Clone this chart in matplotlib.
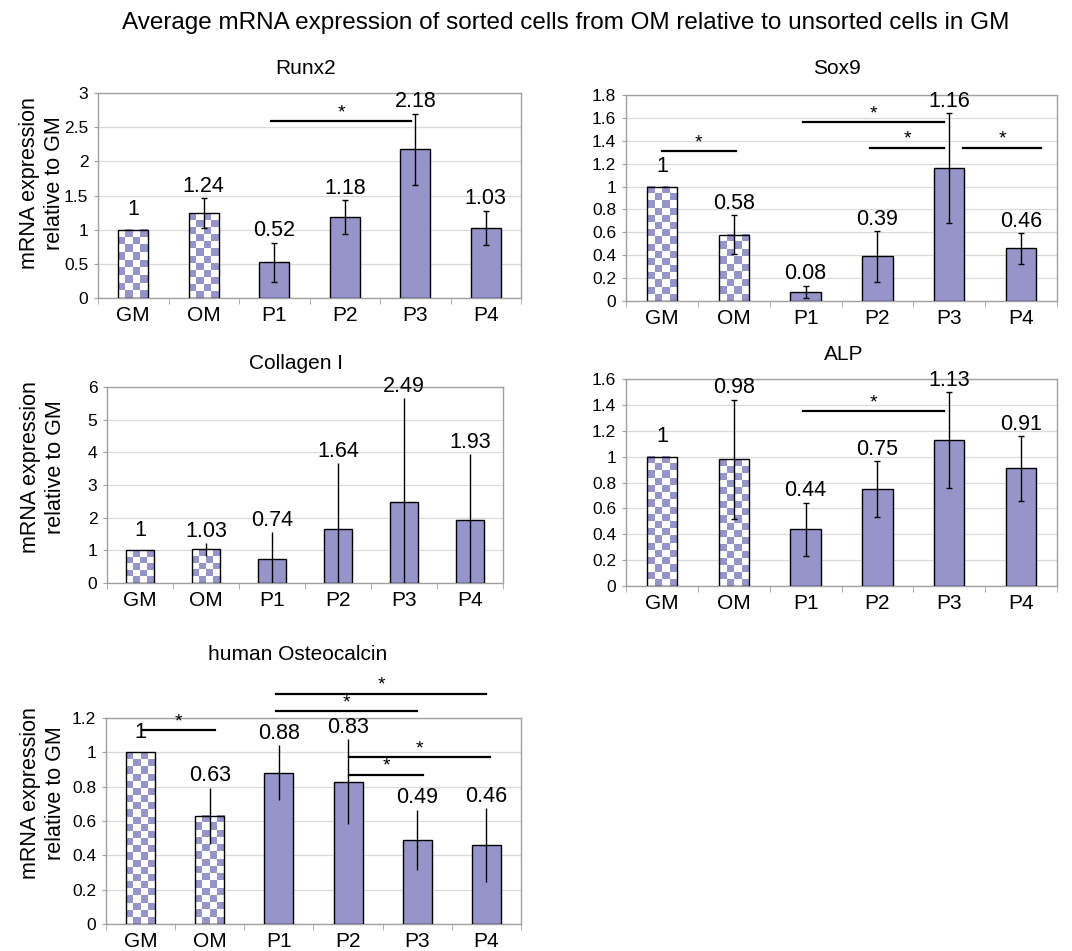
import matplotlib.pyplot as plt
import numpy as np
from matplotlib.colors import ListedColormap

plt.rcParams['font.family'] = ['Liberation Sans', 'DejaVu Sans']

# Dados
grupos = ["GM", "OM", "P1", "P2", "P3", "P4"]

runx2 = [1, 1.24, 0.52, 1.18, 2.18, 1.03]
runx2_err = [0, 0.22, 0.29, 0.25, 0.52, 0.25]
sox9 = [1, 0.58, 0.08, 0.39, 1.16, 0.46]
sox9_err = [0, 0.17, 0.055, 0.22, 0.48, 0.135]
col1 = [1, 1.03, 0.74, 1.64, 2.49, 1.93]
col1_err = [0, 0.19, 0.81, 2.02, 3.16, 2.01]
alp = [1, 0.98, 0.44, 0.75, 1.13, 0.91]
alp_err = [0, 0.46, 0.205, 0.215, 0.37, 0.25]
osteo = [1, 0.63, 0.88, 0.83, 0.49, 0.46]
osteo_err = [0, 0.165, 0.16, 0.245, 0.175, 0.215]

# Barras de significancia: (inicio, fim, altura)
runx2_sig = [(1.96, 3.94, 2.59)]
sox9_sig = [(0.0, 1.03, 1.31), (1.96, 3.93, 1.56), (2.9, 3.93, 1.34), (4.19, 5.28, 1.34)]
col1_sig = []
alp_sig = [(1.96, 3.93, 1.35)]
osteo_sig = [(0.03, 1.07, 1.13), (1.96, 5.0, 1.34), (1.96, 3.99, 1.24), (3.02, 5.05, 0.97), (3.02, 4.09, 0.87)]

cor = '#9595C9'
W, H = 1072, 951


def caixa(x0, x1, y0, y1):
    # converte pixels (topo = 0) em fracao da figura
    return [x0 / W, 1 - y1 / H, (x1 - x0) / W, (y1 - y0) / H]


def xadrez(ax, x, largura, altura):
    # padrao quadriculado com quadrados de ~7 px
    p0 = ax.transData.transform((x - largura / 2, 0))
    p1 = ax.transData.transform((x + largura / 2, altura))
    nx = max(1, int(round((p1[0] - p0[0]) / 7.2)))
    ny = max(1, int(round((p1[1] - p0[1]) / 7.2)))
    ii, jj = np.indices((ny, nx))
    grade = (ii + jj) % 2
    ax.imshow(grade, cmap=ListedColormap(["white", cor]),
              extent=(x - largura / 2, x + largura / 2, 0, altura),
              aspect='auto', interpolation='nearest', origin='lower', zorder=2)


def painel(pos, valores, erros, sig, ymax, passo, titulo, tpos, capsize, ylab=None):
    ax = fig.add_axes(caixa(*pos))
    x = np.arange(len(grupos))
    larg = 0.42
    ax.set_xlim(-0.5, 5.5)
    ax.set_ylim(0, ymax)
    ax.set_yticks(np.arange(0, ymax + passo / 2, passo))
    ax.yaxis.set_major_formatter(plt.FuncFormatter(lambda v, p: f"{round(v, 2):g}"))
    ax.set_xticks(x)
    ax.set_xticklabels(grupos, fontsize=15)
    ax.set_xticks(np.arange(-0.5, 6, 1), minor=True)
    ax.tick_params(axis='x', which='major', length=0, pad=6)
    ax.tick_params(axis='x', which='minor', length=4, color='#A0A0A0')
    ax.tick_params(axis='y', length=3, color='#A0A0A0', labelsize=12.5, pad=4)
    ax.grid(axis='y', color='#D9D9D9', lw=0.9)
    ax.set_axisbelow(True)
    for s in ax.spines.values():
        s.set_color('#A0A0A0')
        s.set_linewidth(1.0)

    for i in range(len(grupos)):
        if i < 2:
            xadrez(ax, x[i], larg, valores[i])
            ax.bar(x[i], valores[i], larg, facecolor='none', edgecolor='black', lw=1.0, zorder=3)
        else:
            ax.bar(x[i], valores[i], larg, color=cor, edgecolor='black', lw=1.0, zorder=3)
    ax.set_xlim(-0.5, 5.5)
    ax.set_ylim(0, ymax)

    com_erro = [i for i in range(len(grupos)) if erros[i] > 0]
    ax.errorbar(x[com_erro], np.array(valores)[com_erro], yerr=np.array(erros)[com_erro],
                fmt='none', ecolor='black', elinewidth=1.0, capsize=capsize, capthick=1.0, zorder=4)

    for i in range(len(grupos)):
        off = 1 if erros[i] > 0 else 7
        ax.annotate(f"{valores[i]:g}", (x[i], valores[i] + erros[i]), xytext=(0, off),
                    textcoords='offset points', ha='center', va='bottom', fontsize=15.5,
                    annotation_clip=False, zorder=5)

    for a, b, y in sig:
        ax.plot([a, b], [y, y], color='black', lw=1.6, clip_on=False, zorder=5)
        ax.annotate('*', ((a + b) / 2, y), xytext=(0, 0), textcoords='offset points',
                    ha='center', va='bottom', fontsize=14, annotation_clip=False)

    fig.text(tpos[0] / W, 1 - tpos[1] / H, titulo, ha='center', va='center', fontsize=15)
    if ylab is not None:
        fig.text(ylab[0] / W, 1 - ylab[1] / H, "mRNA expression\nrelative to GM",
                 rotation=90, ha='center', va='center', fontsize=15.5, multialignment='center')
    return ax


fig = plt.figure(figsize=(W / 100, H / 100), dpi=100)

fig.text(566 / W, 1 - 23 / H,
         "Average mRNA expression of sorted cells from OM relative to unsorted cells in GM",
         ha='center', va='center', fontsize=17.5)

painel((98, 521, 93, 298), runx2, runx2_err, runx2_sig, 3, 0.5, "Runx2", (306, 68), 2.5, ylab=(42, 183))
painel((626, 1057, 95, 301), sox9, sox9_err, sox9_sig, 1.8, 0.2, "Sox9", (837, 69), 2.5)
painel((107, 503, 387, 583), col1, col1_err, col1_sig, 6, 1, "Collagen I", (296, 363), 0, ylab=(43, 467))
painel((626, 1057, 379, 586), alp, alp_err, alp_sig, 1.6, 0.2, "ALP", (844, 355), 2.5)
painel((106, 521, 718, 924), osteo, osteo_err, osteo_sig, 1.2, 0.2, "human Osteocalcin", (298, 654), 0, ylab=(43, 793))

fig.savefig("out.png", dpi=100)
